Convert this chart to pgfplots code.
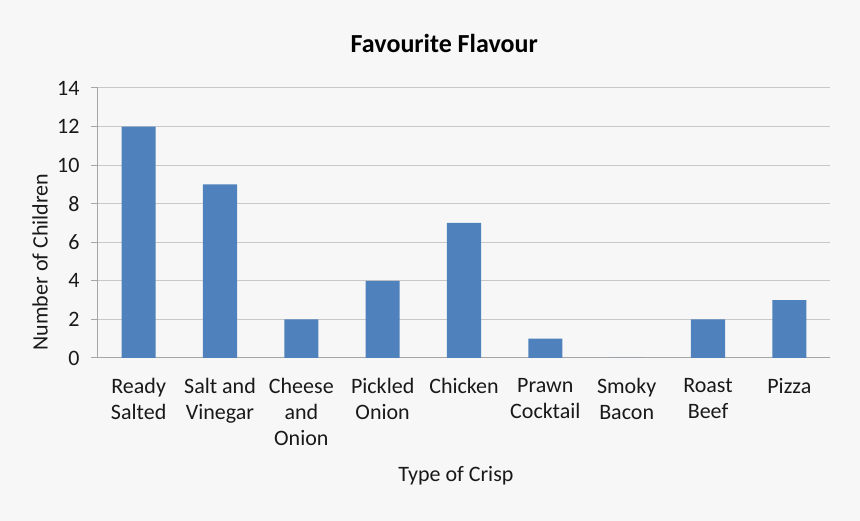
\documentclass[border=0pt]{standalone}
\usepackage{pgfplots}
\pgfplotsset{compat=1.18}
\usepackage{fontspec}
\setmainfont{Carlito}
\definecolor{barblue}{HTML}{4F81BD}
\definecolor{bg}{HTML}{F7F7F7}
\definecolor{gridgray}{HTML}{C8C8C8}
\definecolor{axisgray}{HTML}{A6A6A6}
\begin{document}
\begin{tikzpicture}[x=1pt,y=1pt]
  \fill[bg] (0,0) rectangle (860,521);
  \useasboundingbox (0,0) rectangle (860,521);
  \begin{axis}[
    at={(98pt,163pt)}, anchor=south west,
    scale only axis,
    width=732pt, height=270pt,
    ybar, bar width=0.42,
    bar shift=0pt,
    xmin=-0.5, xmax=8.5,
    ymin=0, ymax=14,
    ytick={0,2,...,14},
    xtick={0,...,8},
    xticklabels={Ready\\Salted, Salt and\\Vinegar, Cheese\\and\\Onion, Pickled\\Onion, Chicken, Prawn\\Cocktail, Smoky\\Bacon, Roast\\Beef, Pizza},
    xticklabel style={align=center, font=\fontsize{22}{26}\selectfont, text=black!90, yshift=-10pt},
    yticklabel style={font=\fontsize{22}{26}\selectfont, text=black!90, xshift=-8pt},
    /pgf/number format/assume math mode=true,
    axis x line*=bottom, axis y line*=left,
    axis line style={axisgray, line width=1pt},
    tick align=outside,
    ytick pos=left,
    ytick style={axisgray, line width=1pt},
    major tick length=7pt,
    x tick style={draw=none},
    extra x ticks={-0.5,0.5,...,8.5},
    extra x tick labels={},
    extra x tick style={grid=none, tick style={draw=axisgray, line width=1pt}, major tick length=7pt},
    ymajorgrids,
    grid style={gridgray, line width=1pt},
    title={\textbf{Favourite Flavour}},
    title style={at={(axis description cs:0.473,1.141)}, anchor=center, font=\fontsize{26}{30}\selectfont, text=black},
    xlabel={Type of Crisp},
    xlabel style={at={(axis description cs:0.489,-0.437)}, anchor=center, font=\fontsize{22}{26}\selectfont, text=black!90},
    ylabel={Number of Children},
    ylabel style={at={(axis description cs:-0.079,0.355)}, anchor=center, font=\fontsize{22}{26}\selectfont, text=black!90},
  ]
    \addplot[fill=barblue, draw=none] coordinates {
      (0,12) (1,9) (2,2) (3,4) (4,7) (5,1) (6,0) (7,2) (8,3)
    };
  \end{axis}
\end{tikzpicture}
\end{document}
